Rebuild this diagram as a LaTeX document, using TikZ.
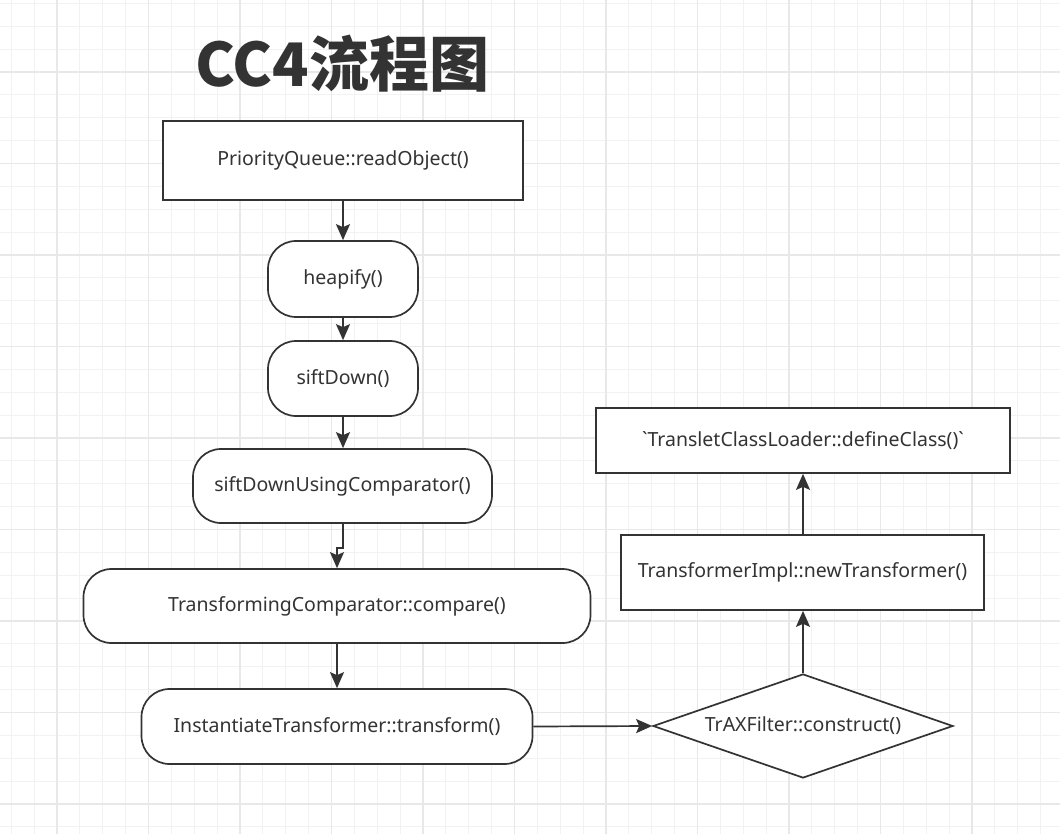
\documentclass[tikz,border=0pt]{standalone}
\usepackage{fontspec}
\setmainfont{Noto Sans}
\newfontfamily\plainfont{Noto Sans}[Ligatures=TeXOff]
\newfontfamily\cjkbold{Noto Sans CJK SC}
\usetikzlibrary{arrows.meta,shapes.geometric}
\definecolor{ink}{HTML}{333333}
\definecolor{gridminor}{HTML}{F2F2F2}
\definecolor{gridmajor}{HTML}{E8E8E8}
\tikzset{
  flowbox/.style={draw=ink, line width=1.7pt, fill=white, rectangle, inner sep=0pt, text=ink, font=\fontsize{19.5}{22}\selectfont},
  flowround/.style={flowbox, rounded corners=28pt},
  flowdiam/.style={draw=ink, line width=1.7pt, fill=white, diamond, inner sep=0pt, text=ink, font=\fontsize{19.5}{22}\selectfont},
  flowarrow/.style={draw=ink, line width=1.7pt, -{Stealth[length=16pt,width=14pt,inset=3pt]}},
}
\begin{document}
\begin{tikzpicture}[x=1pt,y=-1pt]
\useasboundingbox (0,0) rectangle (1060,834);
\fill[white] (0,0) rectangle (1060,834);
% minor grid
\foreach \i in {0,...,48}{
  \pgfmathsetmacro{\gx}{-34.5+22.875*\i}
  \draw[gridminor, line width=1pt] (\gx,0) -- (\gx,834);
}
\foreach \i in {0,...,38}{
  \pgfmathsetmacro{\gy}{-19.5+22.875*\i}
  \draw[gridminor, line width=1pt] (0,\gy) -- (1060,\gy);
}
% major grid
\foreach \i in {0,...,12}{
  \pgfmathsetmacro{\gx}{-34.5+91.5*\i}
  \draw[gridmajor, line width=1.1pt] (\gx,0) -- (\gx,834);
}
\foreach \i in {0,...,10}{
  \pgfmathsetmacro{\gy}{-19.5+91.5*\i}
  \draw[gridmajor, line width=1.1pt] (0,\gy) -- (1060,\gy);
}
% title
\node[text=ink, font=\cjkbold\bfseries\fontsize{60}{70}\selectfont, inner sep=0pt] (title) at (342,64) {CC4流程图};
% nodes
\node[flowbox, minimum width=360pt, minimum height=79pt] (pq) at (343,160.5) {PriorityQueue::readObject()};
\node[flowround, minimum width=150pt, minimum height=76pt] (heap) at (343,279) {heapify()};
\node[flowround, minimum width=150pt, minimum height=75pt] (sift) at (343,378.5) {siftDown()};
\node[flowround, minimum width=299pt, minimum height=74pt] (sduc) at (342.5,486) {siftDownUsingComparator()};
\node[flowround, minimum width=507pt, minimum height=74pt] (tcomp) at (337,606) {TransformingComparator::compare()};
\node[flowround, minimum width=391pt, minimum height=75pt] (itrans) at (337,726.5) {InstantiateTransformer::transform()};
\node[flowdiam, minimum width=300pt, minimum height=104pt, aspect=2.885] (trax) at (803,726) {TrAXFilter::construct()};
\node[flowbox, minimum width=363pt, minimum height=75pt] (timpl) at (802.5,572.5) {TransformerImpl::newTransformer()};
\node[flowbox, minimum width=414pt, minimum height=65pt] (tcl) at (803,440.5) {\plainfont`TransletClassLoader::defineClass()`};
% connectors
\coordinate (bendA) at (343,548);
\coordinate (bendB) at (337,548);
\draw[flowarrow] (pq.south) -- (heap.north);
\draw[flowarrow] (heap.south) -- (sift.north);
\draw[flowarrow] (sift.south) -- (sift.south |- sduc.north);
\draw[flowarrow] (sduc.south -| bendA) -- (bendA) -- (bendB) -- (tcomp.north);
\draw[flowarrow] (tcomp.south) -- (itrans.north);
\draw[flowarrow] (itrans.east) -- (trax.west);
\draw[flowarrow] (trax.north) -- (trax.north |- timpl.south);
\draw[flowarrow] (timpl.north -| trax.north) -- (trax.north |- tcl.south);
\end{tikzpicture}
\end{document}
